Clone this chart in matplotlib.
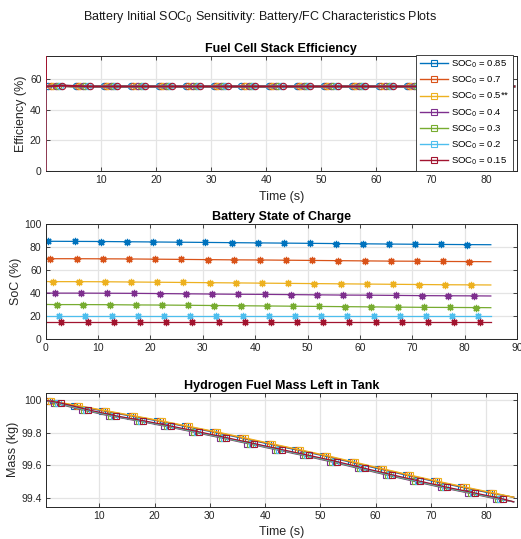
import numpy as np
import matplotlib
matplotlib.use("Agg")
import matplotlib.pyplot as plt
from matplotlib.ticker import FuncFormatter

plt.rcParams['font.family'] = ['Liberation Sans', 'DejaVu Sans']

# ---- data -----------------------------------------------------------------
soc0_labels = ["0.85", "0.7", "0.5**", "0.4", "0.3", "0.2", "0.15"]
colors = ["#0072BD", "#D95319", "#EDB120", "#7E2F8E", "#77AC30", "#4DBEEE", "#A2142F"]

# marker sample times: first marker offset per run, then every 5 s (17 markers)
marker_offset = [0.5, 0.9, 1.3, 1.8, 2.2, 2.6, 3.0]
marker_step = 5.0
n_marks = 17
t_start = 0.0
t_end = 85.0

# stack start-up transient (time in s, efficiency in %)
eff_startup_t = [0.0, 0.0, 0.05]
eff_startup_pct = [0.0, 90.0, 55.0]
# fuel-cell stack efficiency (%) at the 17 marker samples and at t_end
eff_pct = [55.5, 55.0, 55.0, 55.0, 55.0, 55.0, 55.0, 55.0, 55.0, 55.0,
           55.0, 55.0, 55.0, 55.0, 55.0, 55.0, 55.0, 55.0]

# battery state of charge (%) : t=0, 17 marker samples, t=85 s
soc_085 = [85.2, 85.2, 85.1, 85.0, 84.8, 84.6, 84.4, 84.2, 84.0, 83.8, 83.6,
           83.4, 83.2, 83.0, 82.8, 82.6, 82.45, 82.3, 82.2]
soc_070 = [70.1, 70.0, 70.0, 69.9, 69.8, 69.6, 69.4, 69.2, 69.0, 68.9, 68.7,
           68.5, 68.3, 68.1, 67.9, 67.8, 67.6, 67.5, 67.4]
soc_050 = [50.1, 50.0, 50.0, 49.9, 49.7, 49.5, 49.3, 49.1, 48.9, 48.7, 48.5,
           48.3, 48.1, 47.9, 47.7, 47.5, 47.3, 47.2, 47.1]
soc_040 = [40.1, 40.0, 40.0, 39.9, 39.8, 39.6, 39.4, 39.2, 39.0, 38.9, 38.7,
           38.5, 38.3, 38.2, 38.0, 37.8, 37.7, 37.6, 37.5]
soc_030 = [30.1, 30.0, 30.0, 29.9, 29.7, 29.6, 29.4, 29.2, 29.0, 28.8, 28.6,
           28.4, 28.2, 28.0, 27.8, 27.6, 27.5, 27.4, 27.3]
soc_020 = [20.0, 20.0, 20.0, 20.0, 20.0, 20.0, 20.0, 20.0, 20.0, 20.0, 20.0,
           20.0, 20.0, 20.0, 20.0, 20.0, 20.0, 20.0, 20.0]
soc_015 = [15.0, 15.0, 15.0, 15.0, 15.0, 15.0, 15.0, 15.0, 15.0, 15.0, 15.0,
           15.0, 15.0, 15.0, 15.0, 15.0, 15.0, 15.0, 15.0]
soc_runs = [soc_085, soc_070, soc_050, soc_040, soc_030, soc_020, soc_015]

# hydrogen mass left in tank (kg): high-SOC runs and low-SOC runs
mass_high_soc = [100.0, 99.995, 99.965, 99.934, 99.903, 99.872, 99.838, 99.804,
                 99.768, 99.731, 99.695, 99.658, 99.618, 99.578, 99.539, 99.501,
                 99.465, 99.430, 99.403]
mass_low_soc = [100.0, 99.982, 99.940, 99.903, 99.873, 99.840, 99.805, 99.769,
                99.733, 99.696, 99.660, 99.622, 99.581, 99.541, 99.502, 99.464,
                99.429, 99.393, 99.375]
mass_runs = [mass_high_soc, mass_high_soc, mass_high_soc,
             mass_low_soc, mass_low_soc, mass_low_soc, mass_low_soc]


def marker_times(offset):
    return offset + marker_step * np.arange(n_marks)


def sample_times(offset):
    return np.concatenate([[t_start], marker_times(offset), [t_end]])


# ---- figure ---------------------------------------------------------------
W, H = 521, 539
fig = plt.figure(figsize=(W / 100, H / 100), dpi=100)

def px_axes(left, top, right, bottom):
    return fig.add_axes([left / W, 1 - bottom / H, (right - left) / W, (bottom - top) / H])

ax1 = px_axes(45.7, 55.7, 517, 171)
ax2 = px_axes(45.7, 224.3, 517, 339)
ax3 = px_axes(45.7, 392.7, 517, 506.7)

axis_col = "#262626"
for ax in (ax1, ax2, ax3):
    ax.set_axisbelow(True)
    ax.grid(True, color="#e4e4e4", lw=0.9)
    for s in ax.spines.values():
        s.set_color(axis_col)
        s.set_linewidth(0.7)
    ax.tick_params(direction="in", top=True, right=True, length=3, width=0.6,
                   colors=axis_col, labelsize=7.5, pad=3)

title_kw = dict(fontsize=9, fontweight="bold", pad=3)
label_kw = dict(fontsize=9, color=axis_col)


def place_ylabel(ax, text, x_px):
    ax.set_ylabel(text, **label_kw)
    ax.yaxis.label.set_va("center")
    ax.yaxis.set_label_coords((x_px - 45.7) / (517 - 45.7), 0.5)


# Fuel cell efficiency
for i in range(7):
    t = np.concatenate([eff_startup_t, marker_times(marker_offset[i]), [t_end]])
    y = np.concatenate([eff_startup_pct, eff_pct])
    ax1.plot(t, y, color=colors[i], lw=1.5, marker="o", ms=4.6, zorder=3,
             mfc="none", mew=0.8, markevery=slice(3, 3 + n_marks))
ax1.set_xlim(0, 85.5)
ax1.set_ylim(0, 75)
ax1.set_xticks(np.arange(10, 81, 10))
ax1.set_yticks(np.arange(0, 61, 20))
ax1.set_title("Fuel Cell Stack Efficiency", **title_kw)
ax1.set_xlabel("Time (s)", labelpad=4, **label_kw)
place_ylabel(ax1, "Efficiency (%)", 21.5)

# legend with square markers
handles = [plt.Line2D([], [], color=c, lw=1.0, marker="s", ms=4.2, mfc="none", mew=0.8)
           for c in colors]
labels = [f"SOC$_0$ = {s}" for s in soc0_labels]
leg = ax1.legend(handles, labels, loc="upper right", bbox_to_anchor=(0.9915, 1.005),
                 borderaxespad=0, fontsize=6.8, frameon=True, fancybox=False,
                 edgecolor=axis_col, framealpha=1, handlelength=3.0,
                 handletextpad=0.35, labelspacing=0.5, borderpad=0.35)
leg.get_frame().set_linewidth(0.6)
leg.set_zorder(5)

# Battery state of charge
asterisk = (8, 2, 0)
for i in range(7):
    ax2.plot(sample_times(marker_offset[i]), soc_runs[i], color=colors[i], lw=0.9,
             marker=asterisk, ms=5.2, mew=0.9, markevery=slice(1, 1 + n_marks))
ax2.set_xlim(0, 90)
ax2.set_ylim(0, 100)
ax2.set_xticks(np.arange(0, 91, 10))
ax2.set_yticks(np.arange(0, 101, 20))
ax2.set_title("Battery State of Charge", **title_kw)
place_ylabel(ax2, "SoC (%)", 16.5)

# Hydrogen mass
for i in range(7):
    ax3.plot(sample_times(marker_offset[i]), mass_runs[i], color=colors[i], lw=0.9,
             marker="s", ms=4.2, mfc="none", mew=0.8, markevery=slice(1, 1 + n_marks))
ax3.set_xlim(0.3, 85.6)
ax3.set_ylim(99.345, 100.045)
ax3.set_xticks(np.arange(10, 81, 10))
ax3.set_yticks([99.4, 99.6, 99.8, 100.0])
ax3.yaxis.set_major_formatter(FuncFormatter(lambda v, p: f"{v:g}"))
ax3.set_title("Hydrogen Fuel Mass Left in Tank", **title_kw)
ax3.set_xlabel("Time (s)", labelpad=4, **label_kw)
place_ylabel(ax3, "Mass (kg)", 13)

fig.text(0.5, 1 - 17 / H, "Battery Initial SOC$_0$ Sensitivity: Battery/FC Characteristics Plots",
         ha="center", va="center", fontsize=9, color="#1a1a1a")

fig.savefig("out.png", dpi=100)
